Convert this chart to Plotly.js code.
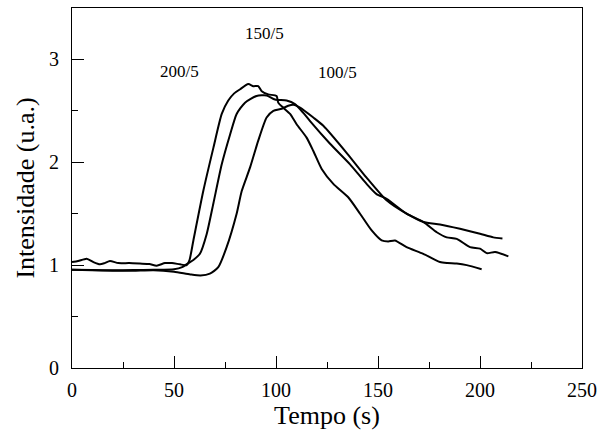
<!DOCTYPE html>
<html>
<head>
<meta charset="utf-8">
<script src="https://cdn.plot.ly/plotly-3.0.1.min.js"></script>
<style>html,body{margin:0;padding:0;background:#fff;}#chart{width:607px;height:439px;}</style>
</head>
<body>
<div id="chart"></div>
<script>
// Series 200/5
const t200 = [0, 3, 7.2, 10.5, 13.7, 16, 18.6, 22.7, 28, 33.3, 38, 41.5, 45.6, 49, 52.9, 56.2, 57.6, 59.5, 64.4, 69.3, 73.4, 76.6, 79.5, 82.4, 86.4, 88.9, 91.3, 93, 96.2, 100.3, 101.1, 103.6, 106.9, 110.1, 115, 118.3, 122.4, 128.1, 135.4, 141.2, 146.9, 151.8, 155, 158.3, 164, 172.2, 180.4, 184, 188.6, 193.5, 200.8];
const y200 = [1.03, 1.04, 1.063, 1.03, 1.008, 1.02, 1.04, 1.02, 1.02, 1.015, 1.01, 0.995, 1.02, 1.02, 1.008, 1.0, 1.05, 1.24, 1.725, 2.14, 2.47, 2.6, 2.67, 2.71, 2.76, 2.74, 2.74, 2.69, 2.66, 2.645, 2.58, 2.53, 2.47, 2.37, 2.24, 2.11, 1.935, 1.79, 1.66, 1.5, 1.337, 1.24, 1.23, 1.24, 1.175, 1.11, 1.03, 1.02, 1.015, 1.0, 0.96];
// Series 150/5
const t150 = [0, 10, 20, 30, 40, 50, 54, 57, 59.5, 62.7, 66, 69.3, 73.4, 77.5, 80.7, 84.8, 90.5, 95.4, 99.5, 105.2, 109.3, 113.4, 116.7, 126.5, 136.3, 144.4, 149.3, 154.2, 164, 172.2, 178.8, 183.7, 188.6, 195.1, 200, 203.3, 207.4, 213.9];
const y150 = [0.955, 0.952, 0.95, 0.952, 0.955, 0.96, 0.98, 1.02, 1.05, 1.11, 1.3, 1.6, 1.98, 2.27, 2.47, 2.58, 2.645, 2.65, 2.61, 2.6, 2.565, 2.48, 2.40, 2.18, 1.98, 1.79, 1.69, 1.645, 1.5, 1.42, 1.32, 1.27, 1.255, 1.175, 1.16, 1.117, 1.127, 1.085];
// Series 100/5
const t100 = [0, 10, 20, 30, 40, 50, 58, 63, 67.6, 71.7, 75.8, 80.7, 83.2, 87.3, 91.3, 95.4, 98.7, 102.8, 106, 108.5, 112, 118.3, 123.2, 135.1, 144.4, 154.2, 164, 172.2, 180.4, 190.2, 200, 206.5, 211];
const y100 = [0.955, 0.95, 0.945, 0.945, 0.95, 0.935, 0.91, 0.9, 0.917, 0.98, 1.175, 1.5, 1.72, 1.95, 2.21, 2.435, 2.5, 2.52, 2.55, 2.56, 2.53, 2.435, 2.355, 2.08, 1.85, 1.63, 1.5, 1.42, 1.395, 1.353, 1.305, 1.27, 1.26];
// Labels
const labelText = ["200/5", "150/5", "100/5"];
const labelX = [52.7, 94.5, 130.1];
const labelY = [2.88, 3.25, 2.87];
const xTitle = "Tempo (s)";
const yTitle = "Intensidade (u.a.)";

const serif = 'Times New Roman, Liberation Serif, DejaVu Serif, serif';
const lineStyle = {color: '#000', width: 2, shape: 'spline', smoothing: 0.6};
const traces = [
  {x: t200, y: y200, mode: 'lines', line: lineStyle, name: labelText[0], hoverinfo: 'skip'},
  {x: t150, y: y150, mode: 'lines', line: lineStyle, name: labelText[1], hoverinfo: 'skip'},
  {x: t100, y: y100, mode: 'lines', line: lineStyle, name: labelText[2], hoverinfo: 'skip'}
];
const annotations = labelText.map((s, i) => ({
  x: labelX[i], y: labelY[i], xref: 'x', yref: 'y', text: s, showarrow: false,
  font: {family: serif, size: 17, color: '#000'}
}));
const layout = {
  width: 607, height: 439,
  margin: {l: 72, r: 25, t: 8, b: 71, pad: 0},
  paper_bgcolor: '#fff', plot_bgcolor: '#fff',
  showlegend: false,
  font: {family: serif, color: '#000'},
  xaxis: {
    range: [0, 250], tick0: 0, dtick: 50, ticks: 'inside', ticklen: 12, tickwidth: 1, tickcolor: '#000',
    minor: {dtick: 25, tick0: 0, ticks: 'inside', ticklen: 6, tickwidth: 1, tickcolor: '#000', showgrid: false},
    showline: true, mirror: true, linecolor: '#000', linewidth: 1,
    showgrid: false, zeroline: false,
    tickfont: {family: serif, size: 20, color: '#000'},
    ticklabelstandoff: 4,
    title: {text: xTitle, font: {family: serif, size: 26, color: '#000'}, standoff: 0}
  },
  yaxis: {
    range: [0, 3.5], tick0: 0, dtick: 1, ticks: 'inside', ticklen: 12, tickwidth: 1, tickcolor: '#000',
    minor: {dtick: 0.5, tick0: 0, ticks: 'inside', ticklen: 6, tickwidth: 1, tickcolor: '#000', showgrid: false},
    showline: true, mirror: true, linecolor: '#000', linewidth: 1,
    showgrid: false, zeroline: false,
    tickfont: {family: serif, size: 20, color: '#000'},
    ticklabelstandoff: 8,
    title: {text: yTitle, font: {family: serif, size: 26, color: '#000'}, standoff: 6}
  },
  annotations: annotations
};
Plotly.newPlot('chart', traces, layout, {staticPlot: true, displayModeBar: false});
</script>
</body>
</html>
